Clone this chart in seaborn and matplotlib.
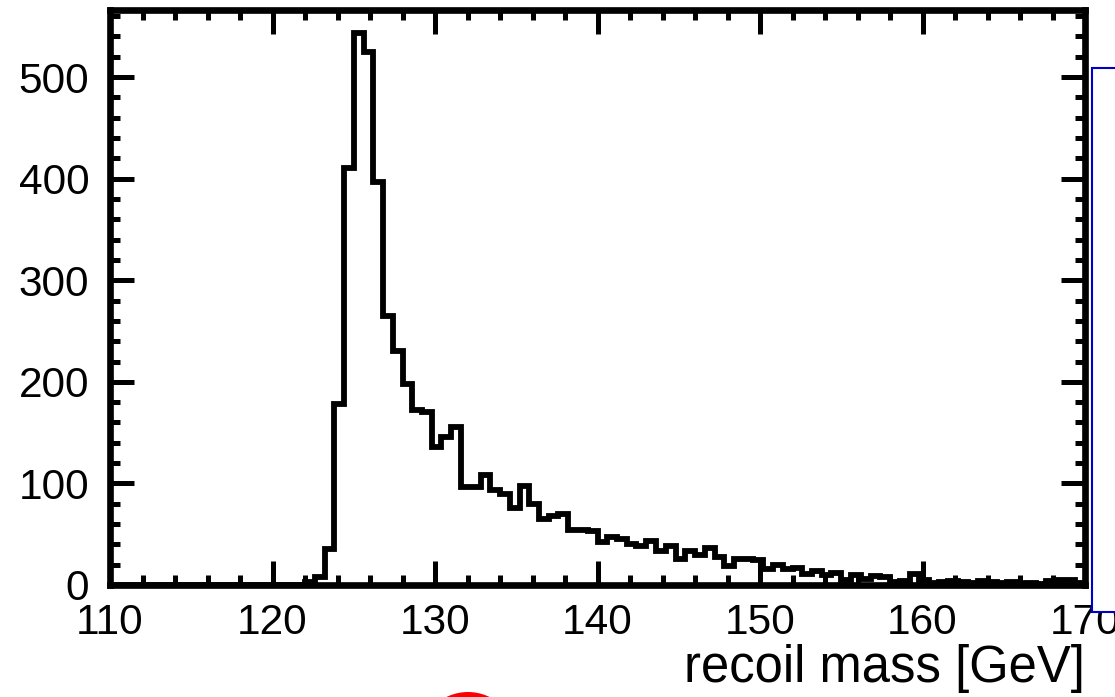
import numpy as np
import pandas as pd
import seaborn as sns
import matplotlib.pyplot as plt
from matplotlib.patches import Rectangle, Circle
from matplotlib.ticker import MultipleLocator

# Histogram binning (100 bins from 110 to 170 GeV)
x_low = 110
x_high = 170
n_bins = 100

# Entries per bin
counts = [
    0, 0, 0, 0, 0, 0, 0, 0, 0, 0,
    0, 0, 0, 0, 0, 0, 0, 0, 0, 0,
    3, 8, 35, 178, 410, 543, 525, 397, 265, 230,
    198, 172, 170, 136, 146, 156, 96, 96, 108, 94,
    90, 76, 97, 80, 65, 68, 70, 54, 54, 53,
    42, 47, 45, 40, 38, 43, 33, 38, 26, 33,
    30, 36, 28, 19, 26, 26, 25, 16, 20, 16,
    17, 11, 14, 10, 12, 5, 10, 6, 9, 8,
    3, 4, 11, 5, 2, 3, 4, 3, 2, 4,
    3, 2, 3, 1, 2, 1, 4, 5, 5, 2,
]

x_label = "recoil mass [GeV]"


def main():
    edges = np.linspace(x_low, x_high, n_bins + 1)
    centers = 0.5 * (edges[:-1] + edges[1:])
    df = pd.DataFrame({"recoil_mass": centers, "events": counts})

    sns.set_theme(style="ticks")
    plt.rcParams["font.family"] = ["Liberation Sans", "DejaVu Sans"]

    W, H = 1115, 697
    fig = plt.figure(figsize=(W / 100, H / 100), dpi=100)
    fig.patch.set_facecolor("white")
    ax = fig.add_axes([110 / W, 112 / H, 975 / W, 575 / H])

    sns.histplot(
        data=df,
        x="recoil_mass",
        weights="events",
        bins=n_bins,
        binrange=(x_low, x_high),
        element="step",
        fill=False,
        color="black",
        linewidth=4.2,
        solid_joinstyle="miter",
        ax=ax,
    )

    ax.set_xlim(x_low, x_high)
    ax.set_ylim(0, 566)
    ax.set_facecolor("white")

    # ROOT-like frame and ticks
    for s in ax.spines.values():
        s.set_linewidth(4.8)
        s.set_color("black")
        s.set_visible(True)
    ax.xaxis.set_major_locator(MultipleLocator(10))
    ax.xaxis.set_minor_locator(MultipleLocator(2))
    ax.yaxis.set_major_locator(MultipleLocator(100))
    ax.yaxis.set_minor_locator(MultipleLocator(20))
    ax.tick_params(which="both", direction="in", top=True, right=True,
                   color="black", width=3.6, labelcolor="black")
    ax.tick_params(which="major", length=17, labelsize=30.5, pad=13)
    ax.tick_params(which="minor", length=7.5)
    ax.tick_params(axis="y", pad=15)

    ax.set_ylabel("")
    ax.set_xlabel(x_label, fontsize=36.5, loc="right", labelpad=1, color="black")

    # partially visible box on the right edge
    fig.add_artist(Rectangle((1092 / W, (H - 612) / H), 40 / W, (612 - 68) / H,
                             transform=fig.transFigure, facecolor="white",
                             edgecolor="#0000cc", linewidth=1.5, zorder=5))
    # red disc cut by the bottom edge
    fig.add_artist(Circle((4.68, -0.44), 0.49, transform=fig.dpi_scale_trans,
                          facecolor="red", edgecolor="none", zorder=5))

    fig.savefig("out.png", dpi=100, facecolor="white")
    plt.close(fig)


if __name__ == "__main__":
    main()
